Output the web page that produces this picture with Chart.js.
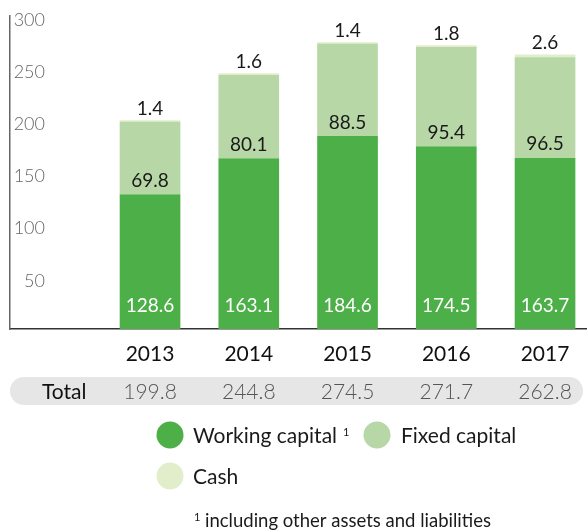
<!DOCTYPE html>
<html>
<head>
<meta charset="utf-8">
<script src="https://cdn.jsdelivr.net/npm/chart.js@4.4.1/dist/chart.umd.min.js"></script>
<style>
  html, body { margin: 0; padding: 0; background: #fff; }
  #wrap { position: relative; width: 587px; height: 530px; }
</style>
</head>
<body>
<div id="wrap"><canvas id="c" width="587" height="530"></canvas></div>
<script>
const years = [2013, 2014, 2015, 2016, 2017];
const workingCapital = [128.6, 163.1, 184.6, 174.5, 163.7];
const fixedCapital = [69.8, 80.1, 88.5, 95.4, 96.5];
const cash = [1.4, 1.6, 1.4, 1.8, 2.6];
const yTicks = [50, 100, 150, 200, 250, 300];
const seriesNames = ['Working capital', 'Fixed capital', 'Cash'];
const colors = ['#4caf48', '#b7d7a7', '#e2eecb'];
const footnote = 'including other assets and liabilities';

const totals = years.map((_, i) => (workingCapital[i] + fixedCapital[i] + cash[i]).toFixed(1));
const toXY = arr => arr.map((v, i) => ({ x: years[i], y: v }));

const overlay = {
  id: 'overlay',
  afterDraw(chart) {
    const ctx = chart.ctx;
    const xs = chart.scales.x, ys = chart.scales.y;
    ctx.save();
    ctx.font = '300 18px Lato';
    ctx.fillStyle = '#666';
    ctx.textAlign = 'right';
    ctx.textBaseline = 'middle';
    yTicks.forEach(v => ctx.fillText(String(v), 45, ys.getPixelForValue(v) + 4));

    const m0 = chart.getDatasetMeta(0).data;
    const m1 = chart.getDatasetMeta(1).data;
    const m2 = chart.getDatasetMeta(2).data;
    ctx.textAlign = 'center';
    years.forEach((yr, i) => {
      const cx = xs.getPixelForValue(yr);
      ctx.font = '400 19px Lato';
      ctx.fillStyle = '#ffffff';
      ctx.fillText(workingCapital[i].toFixed(1), cx, m0[i].base - 23);
      ctx.fillStyle = '#1a1a1a';
      ctx.fillText(fixedCapital[i].toFixed(1), cx, m1[i].base - 14);
      ctx.fillText(cash[i].toFixed(1), cx, m2[i].y - 12);
      ctx.font = '400 21px Lato';
      ctx.fillStyle = '#111';
      ctx.fillText(String(yr), cx, 354);
    });

    ctx.fillStyle = '#e6e6e6';
    ctx.beginPath();
    ctx.roundRect(10, 377, 573, 28, 14);
    ctx.fill();
    ctx.font = '400 21px Lato';
    ctx.fillStyle = '#111';
    ctx.textAlign = 'left';
    ctx.fillText('Total', 42, 392);
    ctx.font = '300 21px Lato';
    ctx.fillStyle = '#555';
    ctx.textAlign = 'center';
    years.forEach((yr, i) => ctx.fillText(totals[i], xs.getPixelForValue(yr), 392));

    const items = [
      { cx: 170, cy: 435, tx: 193, label: seriesNames[0], sup: true },
      { cx: 377, cy: 435, tx: 401, label: seriesNames[1] },
      { cx: 170, cy: 476, tx: 193, label: seriesNames[2] }
    ];
    items.forEach((it, k) => {
      ctx.fillStyle = colors[k];
      ctx.beginPath();
      ctx.arc(it.cx, it.cy, 13.5, 0, Math.PI * 2);
      ctx.fill();
      ctx.font = '400 21px Lato';
      ctx.fillStyle = '#1a1a1a';
      ctx.textAlign = 'left';
      ctx.fillText(it.label, it.tx, it.cy + 1);
      if (it.sup) {
        const w = ctx.measureText(it.label).width;
        ctx.font = '400 11px Lato';
        ctx.fillText('1', it.tx + w + 6, it.cy - 3);
      }
    });

    ctx.font = '400 11px Lato';
    ctx.fillStyle = '#1a1a1a';
    ctx.fillText('1', 194, 517);
    ctx.font = '400 18.5px Lato';
    ctx.fillText(footnote, 205, 521);
    ctx.restore();
  }
};

new Chart(document.getElementById('c'), {
  type: 'bar',
  data: {
    datasets: [
      { label: seriesNames[0], data: toXY(workingCapital), backgroundColor: colors[0] },
      { label: seriesNames[1], data: toXY(fixedCapital), backgroundColor: colors[1] },
      { label: seriesNames[2], data: toXY(cash), backgroundColor: colors[2] }
    ]
  },
  options: {
    responsive: false,
    animation: false,
    layout: { padding: { left: 10, top: 16, right: 0, bottom: 201 } },
    datasets: { bar: { barThickness: 60, borderWidth: 0 } },
    plugins: { legend: { display: false }, tooltip: { enabled: false } },
    scales: {
      x: {
        type: 'linear', stacked: true, offset: false,
        min: 2011.582, max: 2017.425,
        ticks: { display: false },
        grid: { display: false, drawTicks: false, offset: false },
        border: { display: true, color: '#333', width: 1.5 }
      },
      y: {
        stacked: true, min: 0, max: 300,
        ticks: { display: false },
        grid: { display: false, drawTicks: false },
        border: { display: true, color: '#666', width: 1.5 }
      }
    }
  },
  plugins: [overlay]
});
</script>
</body>
</html>
